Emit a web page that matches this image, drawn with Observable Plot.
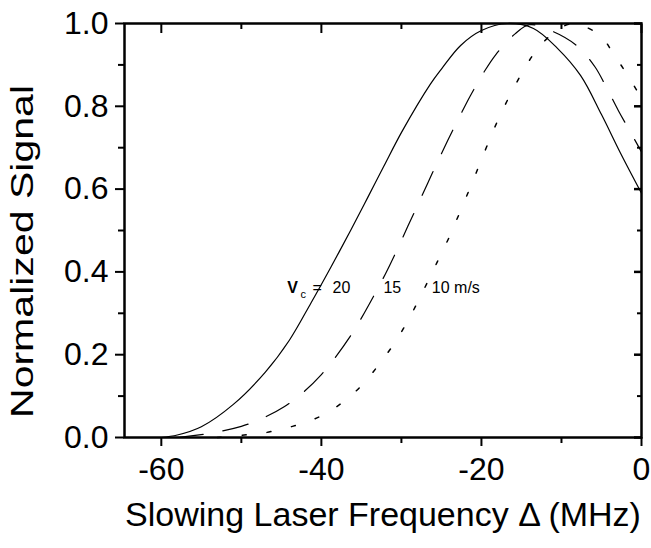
<!DOCTYPE html>
<html><head><meta charset="utf-8">
<script src="https://cdn.jsdelivr.net/npm/d3@7"></script>
<script src="https://cdn.jsdelivr.net/npm/@observablehq/plot@0.6"></script>
<style>body{margin:0;background:#fff} #chart svg{display:block}</style>
</head><body><div id="chart"></div>
<script>
// v_c = 20 m/s (solid)
const freq20 = [-60, -58, -55, -51, -47, -44, -41.3, -38.8, -36.3, -34.2, -32.2, -29.9, -26.4, -25, -22.6, -20, -16.8, -13.5, -10.5, -7.6, -5, -2.6, 0];
const sig20  = [0, 0.006, 0.026, 0.08, 0.158, 0.235, 0.325, 0.412, 0.502, 0.58, 0.655, 0.74, 0.853, 0.89, 0.947, 0.983, 1.0, 0.988, 0.94, 0.874, 0.78, 0.686, 0.59];
// v_c = 15 m/s (dashed)
const freq15 = [-58, -54, -50, -47.5, -44.6, -42.5, -40, -38.4, -36.2, -34.6, -32, -30.5, -29.2, -28, -26.7, -25.5, -24.2, -22.6, -21.4, -19.7, -18.2, -15.8, -14, -11, -8, -5.8, -4.5, -2.9, -1.6, 0];
const sig15  = [0, 0.01, 0.027, 0.045, 0.075, 0.105, 0.152, 0.19, 0.25, 0.302, 0.395, 0.455, 0.51, 0.56, 0.615, 0.665, 0.718, 0.78, 0.825, 0.882, 0.925, 0.975, 0.997, 0.98, 0.945, 0.895, 0.85, 0.79, 0.745, 0.69];
// v_c = 10 m/s (dotted)
const freq10 = [-53, -50.3, -47.5, -44.6, -41.75, -39.25, -36.75, -34.6, -32.75, -30.9, -29.4, -28, -25.5, -24, -23, -21.7, -20.75, -19.5, -18.5, -17.2, -15.75, -14.3, -12.6, -10.1, -8.5, -7.4, -5.1, -3.5, -1.75, 0];
const sig10  = [0, 0.005, 0.01, 0.022, 0.038, 0.06, 0.094, 0.133, 0.178, 0.227, 0.275, 0.326, 0.425, 0.485, 0.53, 0.59, 0.635, 0.695, 0.742, 0.797, 0.852, 0.902, 0.948, 0.99, 1.0, 0.995, 0.97, 0.927, 0.875, 0.82];

const xMajor = [-60, -40, -20, 0];
const xMinor = [-50, -30, -10];
const yMajor = [0, 0.2, 0.4, 0.6, 0.8, 1.0];
const yMinor = [0.1, 0.3, 0.5, 0.7, 0.9];

const xTitle = "Slowing Laser Frequency \u0394 (MHz)";
const yTitle = "Normalized Signal";

const annoText = ["V", "c", "=", "20", "15", "10 m/s"];
const annoX    = [-44.25, -42.6, -41.1, -38.6, -32.25, -26.2];
const annoY    = [0.35, 0.338, 0.35, 0.35, 0.35, 0.35];

const rows = (f, s) => f.map((x, i) => ({x, y: s[i]}));
const d20 = rows(freq20, sig20), d15 = rows(freq15, sig15), d10 = rows(freq10, sig10);
const anno = annoText.map((t, i) => ({t, x: annoX[i], y: annoY[i]}));

const font = "'Liberation Sans', Arial, Helvetica, sans-serif";
const tickFont = 32;

const chart = Plot.plot({
  width: 651, height: 548,
  marginLeft: 124, marginRight: 10, marginTop: 23, marginBottom: 111,
  style: {fontFamily: font, color: "black", background: "white"},
  x: {domain: [-64.6, 0], label: null},
  y: {domain: [0, 1], label: null},
  marks: [
    Plot.line(d20, {x: "x", y: "y", stroke: "black", strokeWidth: 1.2, curve: "catmull-rom"}),
    Plot.line(d15, {x: "x", y: "y", stroke: "black", strokeWidth: 1.2, strokeDasharray: "26,20", curve: "catmull-rom"}),
    Plot.line(d10, {x: "x", y: "y", stroke: "black", strokeWidth: 1.5, strokeDasharray: "4,21", curve: "catmull-rom"}),
    Plot.frame({stroke: "black", strokeWidth: 2.5}),
    Plot.axisX({ticks: xMajor, tickSize: 9, tickPadding: 11, fontSize: tickFont, strokeWidth: 2, tickFormat: d => String(d), label: null}),
    Plot.axisX({ticks: xMinor, tickSize: 6, strokeWidth: 2, tickFormat: () => "", label: null}),
    Plot.axisY({ticks: yMajor, tickSize: 9, tickPadding: 7, fontSize: tickFont, strokeWidth: 2, tickFormat: d3.format(".1f"), label: null}),
    Plot.axisY({ticks: yMinor, tickSize: 6, strokeWidth: 2, tickFormat: () => "", label: null}),
    Plot.axisX({anchor: "top", ticks: xMajor, tickSize: -9, strokeWidth: 2, tickFormat: () => "", label: null}),
    Plot.axisX({anchor: "top", ticks: xMinor, tickSize: -5, strokeWidth: 2, tickFormat: () => "", label: null}),
    Plot.axisY({anchor: "right", ticks: yMajor, tickSize: -8, strokeWidth: 2.5, tickFormat: () => "", label: null}),
    Plot.axisY({anchor: "right", ticks: yMinor, tickSize: -5, strokeWidth: 2, tickFormat: () => "", label: null}),
    Plot.text(anno.filter(d => d.t === "V"), {x: "x", y: "y", text: "t", textAnchor: "start", lineAnchor: "bottom", fontSize: 16, fontWeight: "bold", fill: "black"}),
    Plot.text(anno.filter(d => d.t === "c"), {x: "x", y: "y", text: "t", textAnchor: "start", lineAnchor: "bottom", fontSize: 11, fill: "black"}),
    Plot.text(anno.filter(d => d.t !== "V" && d.t !== "c"), {x: "x", y: "y", text: "t", textAnchor: "start", lineAnchor: "bottom", fontSize: 16, fill: "black"}),
    Plot.text([xTitle], {text: d => d, frameAnchor: "bottom", dy: 88, fontSize: 34, fill: "black", textAnchor: "middle"}),
    Plot.text([yTitle], {text: d => d, frameAnchor: "left", dx: -101, dy: 21, rotate: -90, fontSize: 31, fill: "black", textAnchor: "middle"})
  ]
});
document.getElementById("chart").appendChild(chart);
// stretch the rotated y title to the length it has in the reference
const yt = Array.from(chart.querySelectorAll("text")).find(t => t.textContent === yTitle);
if (yt) { yt.setAttribute("textLength", 333); yt.setAttribute("lengthAdjust", "spacingAndGlyphs"); }
</script>
</body></html>
